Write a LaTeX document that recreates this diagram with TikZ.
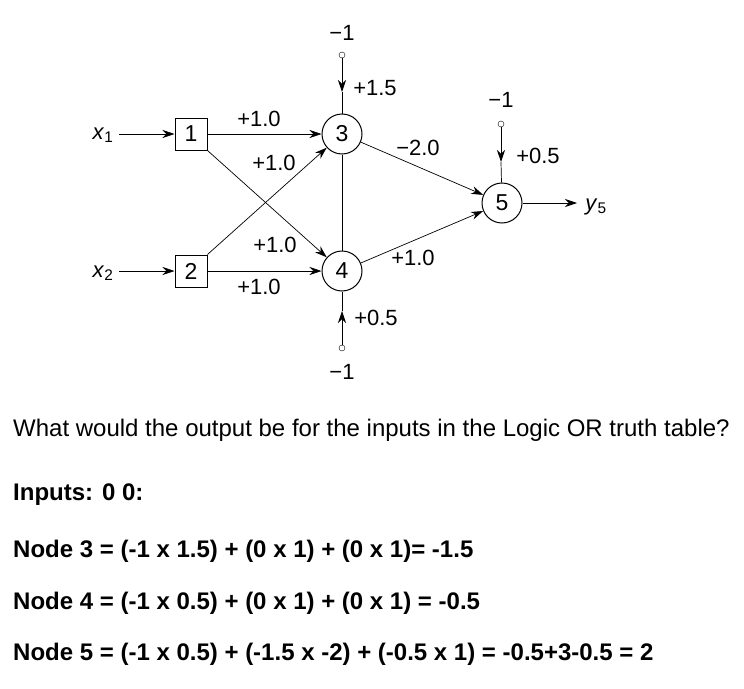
\documentclass[tikz,border=0pt]{standalone}
\usepackage{fontspec}
\setmainfont{Liberation Sans}
\usetikzlibrary{arrows.meta}
\begin{document}
\begin{tikzpicture}[x=1pt,y=-1pt,
  neuron/.style={circle, draw, line width=1pt, minimum size=40pt, inner sep=0pt, font=\fontsize{23}{26}\selectfont},
  inbox/.style={rectangle, draw, line width=1pt, minimum size=32pt, inner sep=0pt, font=\fontsize{23}{26}\selectfont},
  biasdot/.style={circle, draw, minimum size=6pt, inner sep=0pt, line width=0.4pt},
  lab/.style={inner sep=0pt, font=\fontsize{22}{26}\selectfont},
  arr/.style={-{Stealth[length=12pt,width=8pt]}, line width=0.7pt},
  conn/.style={line width=0.7pt},
  txt/.style={anchor=base west, inner sep=0pt, font=\fontsize{24}{28}\selectfont}]
\useasboundingbox (0,0) rectangle (744,688);
% input boxes
\node[inbox] (b1) at (191,134) {1};
\node[inbox] (b2) at (191,271) {2};
\node[neuron] (n3) at (342,134) {3};
\node[neuron] (n4) at (342,271) {4};
\node[neuron] (n5) at (502,203) {5};
% input labels
\node[lab] (x1) at (103,135) {\textit{x}\textsubscript{1}};
\node[lab] (x2) at (103,273) {\textit{x}\textsubscript{2}};
\node[lab] (y5) at (596,207) {\textit{y}\textsubscript{5}};
\coordinate (x1e) at (119,134);
\coordinate (x2e) at (119,271);
\coordinate (y5s) at (577,203);
\draw[arr] (x1e) -- (b1.west);
\draw[arr] (x2e) -- (b2.west);
\draw[arr] (n5.east) -- (y5s);
% connections
\draw[arr] (b1.east) -- (n3);
\draw[arr] (b1.south east) -- (n4);
\draw[arr] (b2.north east) -- (n3);
\draw[arr] (b2.east) -- (n4);
\draw[conn] (n3) -- (n4);
\draw[arr] (n3) -- (n5);
\draw[arr] (n4) -- (n5);
% biases
\node[biasdot] (d3) at (342,55) {};
\node[lab] (m3) at (342,33) {−1};
\coordinate (t3) at (342,92);
\draw[arr] (d3) -- (t3);
\draw[conn] (t3) -- (n3);
\node[lab] (w3) at (375,88) {+1.5};
\node[biasdot] (d4) at (342,348) {};
\node[lab] (m4) at (342,372) {−1};
\coordinate (t4) at (342,311);
\draw[arr] (d4) -- (t4);
\draw[conn] (t4) -- (n4);
\node[lab] (w4) at (376,318) {+0.5};
\node[biasdot] (d5) at (501,124) {};
\node[lab] (m5) at (501,100) {−1};
\coordinate (t5) at (501,162);
\draw[arr] (d5) -- (t5);
\draw[conn] (t5) -- (n5);
\node[lab] (w5) at (538,156) {+0.5};
% weights
\node[lab] (w13) at (259,119) {+1.0};
\node[lab] (w23) at (274,163) {+1.0};
\node[lab] (w14) at (275,245) {+1.0};
\node[lab] (w24) at (259,287) {+1.0};
\node[lab] (w35) at (418,148) {−2.0};
\node[lab] (w45) at (413,258) {+1.0};
% text
\node[txt] (q) at (13,436) {What would the output be for the inputs in the Logic OR truth table?};
\node[txt] (i) at (13,500) {\bfseries Inputs: 0 0:};
\node[txt] (l3) at (13,557) {\bfseries Node 3 = (-1 x 1.5) + (0 x 1) + (0 x 1)= -1.5};
\node[txt] (l4) at (13,609) {\bfseries Node 4 = (-1 x 0.5) + (0 x 1) + (0 x 1) = -0.5};
\node[txt] (l5) at (13,660) {\bfseries Node 5 = (-1 x 0.5) + (-1.5 x -2) + (-0.5 x 1) = -0.5+3-0.5 = 2};
\end{tikzpicture}
\end{document}
